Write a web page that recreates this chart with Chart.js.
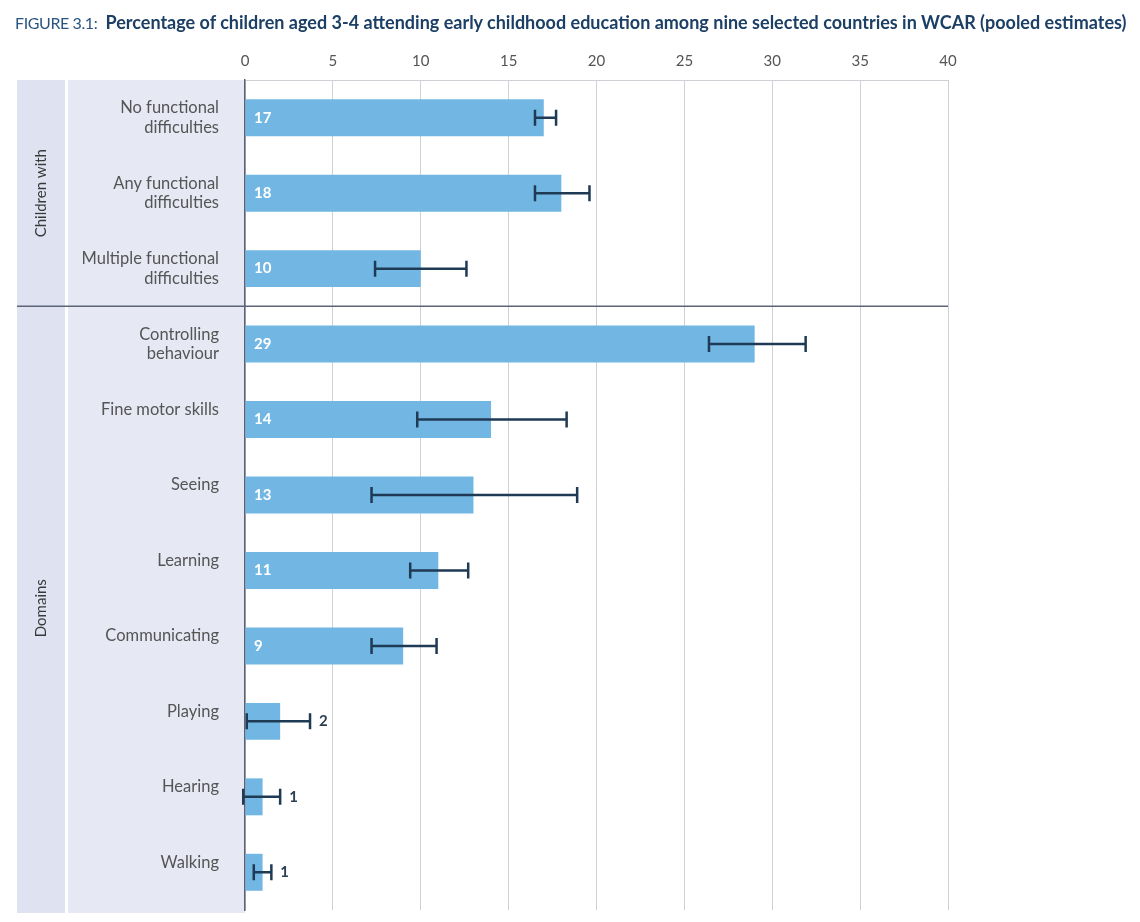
<!DOCTYPE html>
<html>
<head>
<meta charset="utf-8">
<script src="https://cdn.jsdelivr.net/npm/chart.js"></script>
<style>
  body { margin: 0; background: #fff; }
  #wrap { position: relative; width: 1140px; height: 922px; }
  #title { position: absolute; left: 15px; top: 11px; font-family: Lato, sans-serif; color: #1c3f66; white-space: nowrap; }
  #title .fig { font-weight: 400; font-size: 16px; color: #2a5580; letter-spacing: -0.4px; }
  #title b { font-weight: 700; font-size: 18px; }
  canvas { position: absolute; left: 0; top: 0; }
</style>
</head>
<body>
<div id="wrap">
  <canvas id="myChart" width="1140" height="922"></canvas>
  <div id="title"><span class="fig">FIGURE 3.1:</span>&nbsp; <b>Percentage of children aged 3-4 attending early childhood education among nine selected countries in WCAR (pooled estimates)</b></div>
</div>
<script>
// categories, top to bottom
const categories = [
  ['No functional', 'difficulties'],
  ['Any functional', 'difficulties'],
  ['Multiple functional', 'difficulties'],
  ['Controlling', 'behaviour'],
  ['Fine motor skills', ''],
  ['Seeing', ''],
  ['Learning', ''],
  ['Communicating', ''],
  ['Playing', ''],
  ['Hearing', ''],
  ['Walking', '']
];
const values = [17, 18, 10, 29, 14, 13, 11, 9, 2, 1, 1];
// confidence interval ends
const ciLow  = [16.5, 16.5, 7.4, 26.4, 9.8, 7.2, 9.4, 7.2, 0.1, -0.1, 0.5];
const ciHigh = [17.7, 19.6, 12.6, 31.9, 18.3, 18.9, 12.7, 10.9, 3.7, 2.0, 1.5];
const groupNames = ['Children with', 'Domains'];
const groupFirst = [0, 3];
const groupLast = [2, 10];
const xTicks = [0, 5, 10, 15, 20, 25, 30, 35, 40];

const FONT = 'Lato, sans-serif';

const decor = {
  id: 'decor',
  beforeDraw(chart) {
    const {ctx, chartArea: a} = chart;
    ctx.save();
    ctx.fillStyle = '#dfe3f1';
    ctx.fillRect(17, a.top, 48, a.bottom - a.top + 3);
    ctx.fillStyle = '#e6e8f4';
    ctx.fillRect(68, a.top, a.left - 68, a.bottom - a.top + 3);
    ctx.restore();
  },
  afterDatasetsDraw(chart) {
    const {ctx, chartArea: a, scales: {x, y}} = chart;
    const half = (y.getPixelForValue(1) - y.getPixelForValue(0)) / 2;
    ctx.save();

    // error bars
    ctx.strokeStyle = '#1f3a55';
    ctx.lineWidth = 2.5;
    values.forEach((v, i) => {
      const cy = y.getPixelForValue(i);
      const x0 = x.getPixelForValue(ciLow[i]);
      const x1 = x.getPixelForValue(ciHigh[i]);
      ctx.beginPath();
      ctx.moveTo(x0, cy); ctx.lineTo(x1, cy);
      ctx.moveTo(x0, cy - 8); ctx.lineTo(x0, cy + 8);
      ctx.moveTo(x1, cy - 8); ctx.lineTo(x1, cy + 8);
      ctx.stroke();
    });

    // value labels
    ctx.font = 'bold 15px ' + FONT;
    ctx.textBaseline = 'middle';
    ctx.textAlign = 'left';
    values.forEach((v, i) => {
      const cy = y.getPixelForValue(i);
      if (v >= 5) {
        ctx.fillStyle = '#ffffff';
        ctx.fillText(v, a.left + 9, cy);
      } else {
        ctx.fillStyle = '#2c3e50';
        ctx.fillText(v, x.getPixelForValue(ciHigh[i]) + 9, cy);
      }
    });

    // separator between groups
    ctx.strokeStyle = '#5c6478';
    ctx.lineWidth = 1.5;
    for (let g = 1; g < groupFirst.length; g++) {
      const sy = y.getPixelForValue(groupFirst[g]) - half;
      ctx.beginPath();
      ctx.moveTo(17, sy); ctx.lineTo(a.right, sy);
      ctx.stroke();
    }

    // group labels
    ctx.fillStyle = '#3a3a3a';
    ctx.font = '15px ' + FONT;
    ctx.textAlign = 'center';
    groupNames.forEach((name, g) => {
      const cy = (y.getPixelForValue(groupFirst[g]) + y.getPixelForValue(groupLast[g])) / 2;
      ctx.save();
      ctx.translate(41, cy);
      ctx.rotate(-Math.PI / 2);
      ctx.fillText(name, 0, 0);
      ctx.restore();
    });
    ctx.restore();
  }
};

new Chart(document.getElementById('myChart'), {
  type: 'bar',
  data: {
    labels: categories,
    datasets: [{
      data: values,
      backgroundColor: '#72b7e3',
      barPercentage: 0.49,
      categoryPercentage: 1
    }]
  },
  options: {
    indexAxis: 'y',
    responsive: false,
    animation: false,
    layout: { padding: { top: 40, right: 192, bottom: 12, left: 0 } },
    plugins: { legend: { display: false }, tooltip: { enabled: false } },
    scales: {
      x: {
        position: 'top',
        min: 0,
        max: 40,
        afterBuildTicks(scale) { scale.ticks = xTicks.map(v => ({ value: v })); },
        afterFit(scale) { scale.height = 40; scale.paddingLeft = 0; scale.paddingRight = 0; },
        grid: { color: '#cfd0d6', lineWidth: 1, drawTicks: false },
        border: { display: true, color: '#cfd0d6', width: 1 },
        ticks: { color: '#555', padding: 10, font: { family: FONT, size: 15 } }
      },
      y: {
        afterFit(scale) { scale.width = 245; scale.paddingTop = 0; scale.paddingBottom = 0; },
        grid: { color: 'transparent', drawTicks: false },
        border: { display: true, color: '#5d6178', width: 1.5 },
        ticks: { color: '#555', padding: 26, font: { family: FONT, size: 16.5, lineHeight: 1.2 } }
      }
    }
  },
  plugins: [decor]
});
</script>
</body>
</html>
